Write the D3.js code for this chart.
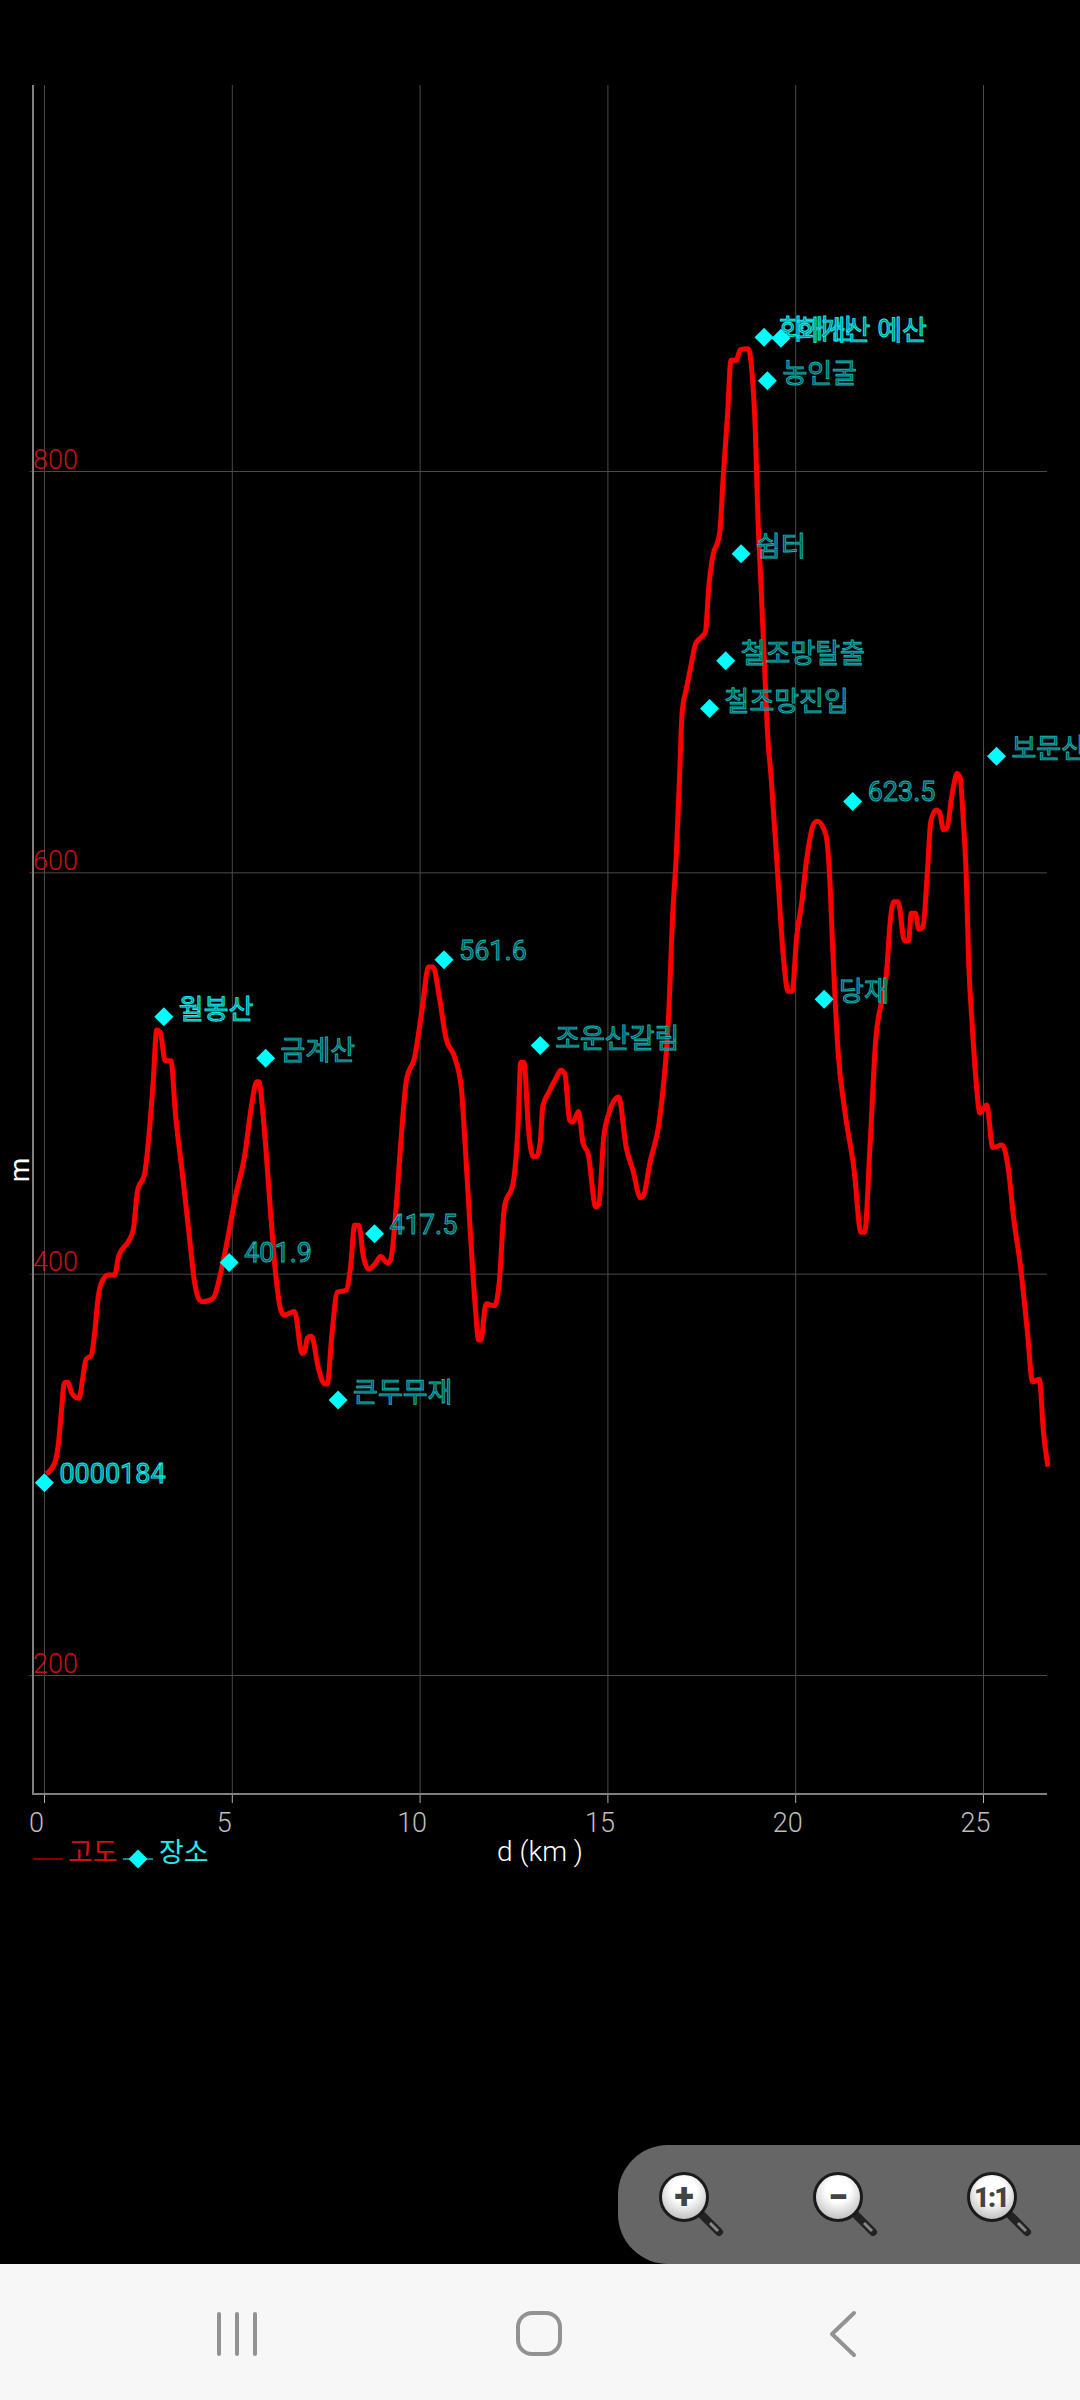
<!DOCTYPE html>
<html lang="ko"><head><meta charset="utf-8">
<script src="https://cdnjs.cloudflare.com/ajax/libs/d3/7.8.5/d3.min.js"></script>
<style>
html,body{margin:0;padding:0;background:#000;width:1080px;height:2400px;overflow:hidden}
svg{display:block}
text{font-family:Roboto,"Noto Sans CJK KR",sans-serif}
</style></head><body><svg id="c" width="1080" height="2400"></svg>
<script>
const distanceKm=[0.06,0.29,0.385,0.46,0.54,0.63,0.75,0.935,1.03,1.12,1.26,1.35,1.44,1.53,1.71,1.88,1.99,2.26,2.38,2.49,2.68,2.79,2.91,3.0,3.09,3.23,3.38,3.5,3.69,3.87,4.01,4.14,4.24,4.51,4.69,4.88,5.11,5.34,5.52,5.66,5.72,5.84,6.02,6.16,6.30,6.39,6.67,6.87,6.94,7.01,7.12,7.31,7.47,7.54,7.67,7.81,8.04,8.16,8.27,8.38,8.5,8.64,8.82,8.96,9.14,9.23,9.37,9.51,9.65,9.87,10.06,10.24,10.36,10.52,10.7,10.93,11.11,11.2,11.34,11.48,11.57,11.63,11.77,12.0,12.12,12.26,12.49,12.63,12.69,12.78,12.9,13.02,13.11,13.21,13.28,13.44,13.66,13.76,13.87,13.99,14.08,14.23,14.35,14.49,14.69,14.77,14.9,15.04,15.3,15.5,15.68,15.88,15.96,16.14,16.37,16.51,16.62,16.74,16.83,16.92,16.99,17.10,17.24,17.35,17.52,17.61,17.70,17.79,17.99,18.08,18.2,18.29,18.43,18.54,18.75,18.84,18.94,19.0,19.09,19.18,19.26,19.36,19.53,19.67,19.81,19.92,20.04,20.17,20.31,20.5,20.59,20.82,20.91,21.0,21.14,21.32,21.57,21.75,21.85,21.99,22.15,22.28,22.42,22.54,22.63,22.74,22.91,23.02,23.09,23.2,23.29,23.4,23.52,23.61,23.75,23.84,23.95,24.04,24.16,24.25,24.30,24.39,24.48,24.55,24.62,24.71,24.8,24.92,25.1,25.26,25.51,25.68,25.81,26.0,26.18,26.32,26.5,26.61,26.73];
const elevationM=[300.2,305.9,315.4,330.7,345.5,345.9,340.2,337.9,347.8,357.4,359.3,370.7,387.9,395.5,399.3,399.3,408.9,416.5,422.2,441.3,449.9,468,496.6,521.4,520.4,506.1,506.1,479.4,448.9,418.4,395.5,386.9,386,387.9,399.3,416.5,439.4,458.4,483.2,495.6,495.6,477.5,433.6,401.2,382.2,379.3,381.2,360.2,361.2,367.9,368.8,352.6,345,345,370.7,390.7,391.7,403.1,424.1,424.1,408.9,402.2,405,408.5,405.4,407,431.7,468,496.6,508,530.9,552.8,552.8,538.5,517.5,508,492.8,468,424.1,384,366.9,366.9,385,384,395.5,433.6,445.1,477.5,505.2,505.2,471.8,458.4,458.4,465.2,483.5,490.4,498.4,501.4,499.5,476.7,475.5,480.8,465.2,459.5,433.2,434.3,467.5,480.1,488.1,462.9,451.5,437.8,438.9,456,474.4,497.3,524.7,579.6,607.1,647.3,679.7,691.2,704.5,714,717.5,719.8,742.6,756,769.3,796,828.5,855.2,855.2,860.5,860.9,851.3,819,780.8,742.6,704.5,670.2,647,600.2,561.3,540.7,540.7,568.2,584.2,607.1,624.3,625.4,618.5,600.2,561.3,511,481.2,451.5,420.6,420.6,463,517.9,533.9,547.6,577.4,585.4,585.4,565.9,565.9,579.6,579.6,571.6,572.8,600.2,625.4,631.1,630,621.3,622,636.8,646,649.2,647.3,624.4,600,554.5,524.7,499.5,480.1,484,462.9,464.1,451.5,428.6,403.4,371.4,346.2,347.4,321,303.9];
const placeNames=["0000184","월봉산","401.9","금계산","큰두무재","417.5","561.6","조운산갈림","철조망진입","철조망탈출","쉼터","화개산","화개산 예산","농인굴","당재","623.5","보문산"];
const placeKm=[0.01,3.19,4.93,5.9,7.83,8.8,10.65,13.21,17.72,18.15,18.56,19.17,19.62,19.26,20.77,21.53,25.36];
const placeM=[295.8,528,405.6,507.4,337,419.9,556.4,513.7,681.6,705.4,758.8,866.6,866.2,845,536.8,635.3,657.8];
const brightPlaces=["0000184","월봉산","화개산","화개산 예산"];
const xTicks=[0,5,10,15,20,25];
const yTicks=[200,400,600,800];
const xLabel="d (km )", yLabel="m";
const legendLine="고도", legendPoints="장소";

const svg=d3.select("#c");
const x=d3.scaleLinear().domain([0,25]).range([44,983]);
const y=d3.scaleLinear().domain([200,800]).range([1675,471]);
const L=33,R=1047,T=85,B=1794;

// grid + axes
const xAxis=d3.axisBottom(x).tickValues(xTicks).tickSize(9).tickFormat(d3.format("d"));
const gx=svg.append("g").attr("transform",`translate(0,${B})`).call(xAxis);
gx.select(".domain").remove();
gx.selectAll(".tick line").attr("stroke","#b0b0b0").attr("stroke-width",1);
gx.selectAll(".tick text").attr("y",38).attr("dy",0).attr("dx",-8).attr("fill","#bdbdbd")
  .style("font-size","27px").style("font-weight",300).attr("text-anchor","middle");
gx.selectAll(".tick").append("line").attr("y1",0).attr("y2",T-B).attr("stroke","#4a4a4a").attr("stroke-width",1);

const yAxis=d3.axisLeft(y).tickValues(yTicks).tickSize(4).tickFormat(d3.format("d"));
const gy=svg.append("g").attr("transform",`translate(${L},0)`).call(yAxis);
gy.select(".domain").remove();
gy.selectAll(".tick line").attr("stroke","#7a1414").attr("stroke-width",1);
gy.selectAll(".tick text").attr("x",0).attr("dy",-3).attr("text-anchor","start").attr("fill","#c81010")
  .style("font-size","27px").style("font-weight",300);
gy.selectAll(".tick").append("line").attr("x1",0).attr("x2",R-L).attr("stroke","#4a4a4a").attr("stroke-width",1);

svg.append("path").attr("d",`M${L},${T}V${B}H${R}`).attr("fill","none").attr("stroke","#808080").attr("stroke-width",2);

// elevation line
const line=d3.line().x((d,i)=>x(distanceKm[i])).y(d=>y(d)).curve(d3.curveMonotoneX);
svg.append("path").datum(elevationM).attr("d",line).attr("fill","none").attr("stroke","#ff0000")
  .attr("stroke-width",5).attr("stroke-linejoin","round");

// places
const diamond=(cx,cy,r)=>`M${cx},${cy-r}L${cx+r},${cy}L${cx},${cy+r}L${cx-r},${cy}Z`;
const places=svg.append("g").selectAll("g").data(placeNames).join("g");
places.append("path").attr("d",(d,i)=>diamond(x(placeKm[i]),y(placeM[i]),9.5)).attr("fill","#00ffff");
places.append("text").text(d=>d)
  .attr("x",(d,i)=>x(placeKm[i])+15).attr("y",(d,i)=>y(placeM[i])+(/^[0-9.]+$/.test(d)?0:2))
  .style("font-size","27px")
  .attr("fill",d=>brightPlaces.includes(d)?"#087f84":"#064f52")
  .attr("stroke",d=>brightPlaces.includes(d)?"#10f0f0":"#12b5b8")
  .attr("stroke-width",0.9);

// axis titles
svg.append("text").text(xLabel).attr("x",540).attr("y",1861).attr("text-anchor","middle")
  .attr("fill","#fff").style("font-size","28px").style("font-weight",300);
svg.append("text").text(yLabel).attr("transform","translate(29,1170) rotate(-90)").attr("text-anchor","middle")
  .attr("fill","#fff").style("font-size","28px");

// legend
svg.append("line").attr("x1",33).attr("x2",63).attr("y1",1859).attr("y2",1859).attr("stroke","#8a0000").attr("stroke-width",2);
svg.append("text").text(legendLine).attr("x",68).attr("y",1862).attr("fill","#d01010").style("font-size","27px");
svg.append("line").attr("x1",123).attr("x2",153).attr("y1",1859).attr("y2",1859).attr("stroke","#008a8a").attr("stroke-width",2);
svg.append("path").attr("d",diamond(138,1859,9.5)).attr("fill","#00ffff");
svg.append("text").text(legendPoints).attr("x",159).attr("y",1862).attr("fill","#20eeee").style("font-size","27px");

// zoom panel and navigation bar
svg.append("rect").attr("x",0).attr("y",2264).attr("width",1080).attr("height",136).attr("fill","#f7f7f7");
svg.append("rect").attr("x",618).attr("y",2145).attr("width",520).attr("height",119).attr("rx",50).attr("fill","#666");
const defs=svg.append("defs");
const g=defs.append("radialGradient").attr("id","lens").attr("cy","35%").attr("r","65%");
g.append("stop").attr("offset","40%").attr("stop-color","#ffffff");
g.append("stop").attr("offset","100%").attr("stop-color","#bdbdbd");
[[684,"+"],[838,"−"],[992,"1:1"]].forEach(([cx,s])=>{
  svg.append("line").attr("x1",cx+16).attr("y1",2197+16).attr("x2",cx+35).attr("y2",2232)
    .attr("stroke","#222").attr("stroke-width",8).attr("stroke-linecap","round");
  svg.append("line").attr("x1",cx+26).attr("y1",2197+26).attr("x2",cx+34).attr("y2",2231)
    .attr("stroke","#888").attr("stroke-width",3);
  svg.append("circle").attr("cx",cx).attr("cy",2197).attr("r",23.5).attr("fill","url(#lens)").attr("stroke","#1a1a1a").attr("stroke-width",3);
  svg.append("text").text(s).attr("x",cx).attr("y",s==="1:1"?2207:2209).attr("text-anchor","middle")
    .attr("fill","#444").style("font-weight",900).style("font-size",s==="1:1"?"27px":"36px")
    .attr("textLength",s==="1:1"?36:null);
});
[219,237,255].forEach(px=>svg.append("line").attr("x1",px).attr("x2",px).attr("y1",2314).attr("y2",2354)
  .attr("stroke","#929292").attr("stroke-width",4).attr("stroke-linecap","round"));
svg.append("rect").attr("x",518).attr("y",2313).attr("width",42).attr("height",41).attr("rx",14).attr("fill","none").attr("stroke","#929292").attr("stroke-width",4);
svg.append("path").attr("d","M854,2313L832,2334L854,2355").attr("fill","none").attr("stroke","#929292").attr("stroke-width",4).attr("stroke-linecap","round").attr("stroke-linejoin","round");
</script></body></html>
